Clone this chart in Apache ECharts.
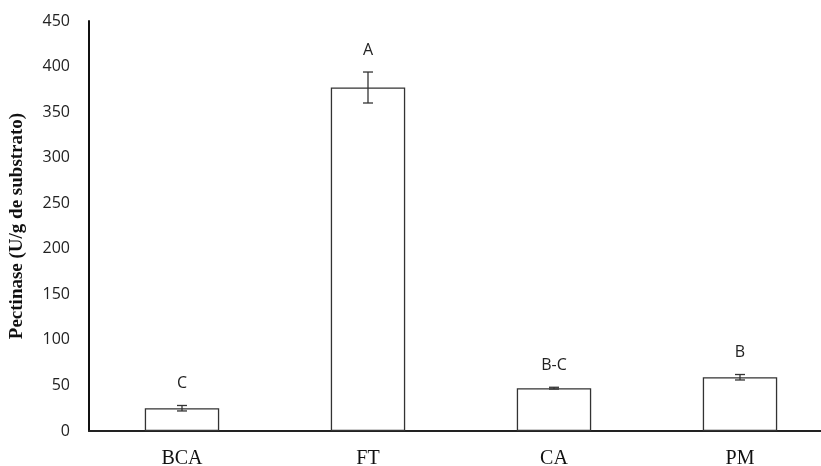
<!DOCTYPE html>
<html>
<head>
<meta charset="utf-8">
<script src="https://cdn.jsdelivr.net/npm/echarts@6/dist/echarts.min.js"></script>
<style>
  html, body { margin: 0; padding: 0; background: #fff; }
  #chart { width: 821px; height: 466px; }
</style>
</head>
<body>
<div id="chart"></div>
<script>
// Pectinase activity per substrate, with standard deviation and significance letters
const categories = ['BCA', 'FT', 'CA', 'PM'];
const pectinase = [25, 377, 47, 59];
const stdDev = [3, 17, 1, 3];
const groupLetters = ['C', 'A', 'B-C', 'B'];
const yTicks = { min: 0, max: 450, interval: 50 };

const chart = echarts.init(document.getElementById('chart'));

const errorData = categories.map((c, i) => [i, pectinase[i], stdDev[i]]);

chart.setOption({
  animation: false,
  grid: {
    left: 89, top: 21, width: 744, bottom: 35,
    containLabel: false,
    outerBoundsMode: 'none'
  },
  xAxis: {
    type: 'category',
    data: categories,
    axisLine: { lineStyle: { color: '#222', width: 2 } },
    axisTick: { show: false },
    axisLabel: {
      margin: 18,
      fontFamily: 'Liberation Serif',
      fontSize: 20,
      color: '#111'
    }
  },
  yAxis: {
    type: 'value',
    min: yTicks.min,
    max: yTicks.max,
    interval: yTicks.interval,
    name: 'Pectinase (U/g de substrato)',
    nameLocation: 'middle',
    nameGap: 62,
    nameTextStyle: {
      fontFamily: 'Liberation Serif',
      fontWeight: 'bold',
      fontSize: 19,
      color: '#111'
    },
    axisLine: { show: true, lineStyle: { color: '#111', width: 2 } },
    axisTick: { show: false },
    splitLine: { show: false },
    axisLabel: {
      margin: 19,
      fontFamily: 'Open Sans',
      fontSize: 16,
      color: '#222'
    }
  },
  series: [
    {
      type: 'bar',
      data: pectinase,
      barCategoryGap: '60%',
      itemStyle: { color: '#fff', borderColor: '#333', borderWidth: 1.3 },
      z: 2
    },
    {
      type: 'custom',
      data: errorData,
      z: 3,
      renderItem: function (params, api) {
        const i = api.value(0);
        const v = api.value(1);
        const e = api.value(2);
        const top = api.coord([i, v + e]);
        const bot = api.coord([i, v - e]);
        const x = top[0];
        const half = 5;
        const style = { stroke: '#333', lineWidth: 1.3 };
        return {
          type: 'group',
          children: [
            { type: 'line', shape: { x1: x, y1: top[1], x2: x, y2: bot[1] }, style: style },
            { type: 'line', shape: { x1: x - half, y1: top[1], x2: x + half, y2: top[1] }, style: style },
            { type: 'line', shape: { x1: x - half, y1: bot[1], x2: x + half, y2: bot[1] }, style: style },
            {
              type: 'text',
              style: {
                text: groupLetters[params.dataIndex],
                x: x,
                y: top[1] - 22,
                align: 'center',
                verticalAlign: 'middle',
                fontFamily: 'Open Sans',
                fontSize: 16,
                fill: '#222'
              }
            }
          ]
        };
      }
    }
  ]
});
</script>
</body>
</html>
